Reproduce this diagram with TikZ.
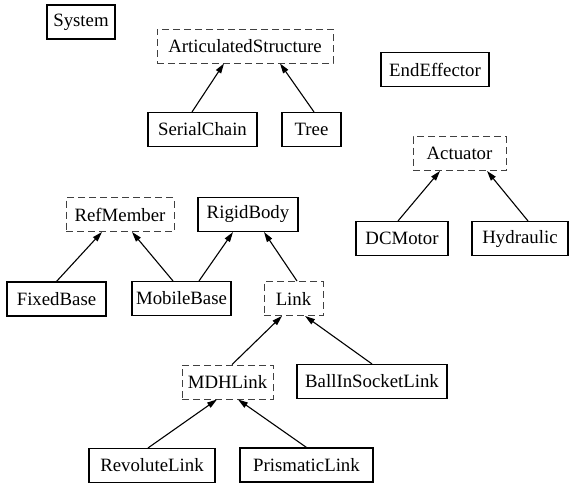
\documentclass[tikz,border=0pt]{standalone}
\usepackage{fontspec}
\setmainfont{Liberation Serif}
\usetikzlibrary{arrows.meta}
\begin{document}
\begin{tikzpicture}[x=1pt,y=-1pt,
  cls/.style={draw, line width=1.1pt, inner sep=0pt, minimum height=34pt,
    font=\fontsize{18.8}{21}\selectfont},
  abstract/.style={cls, draw=black!75, dash pattern=on 7pt off 4pt, line width=0.9pt},
  inherit/.style={line width=1.1pt, -{Triangle[length=10pt,width=6pt]}}]
\useasboundingbox (0,0) rectangle (569,485);

% classes
\node[cls, minimum width=68pt]       (system)  at (81,22)      {System};
\node[abstract, minimum width=176pt] (artic)   at (245,46)     {ArticulatedStructure};
\node[cls, minimum width=108pt]      (endeff)  at (435,69.5)   {EndEffector};
\node[cls, minimum width=109pt]      (serial)  at (202.5,129.5){SerialChain};
\node[cls, minimum width=59pt]       (tree)    at (311.5,129.5){Tree};
\node[abstract, minimum width=93pt]  (actuator) at (459.5,153.5){Actuator};
\node[abstract, minimum width=108pt] (refmem)  at (120,214.5)  {RefMember};
\node[cls, minimum width=100pt]      (rigid)   at (248,214.5)  {RigidBody};
\node[cls, minimum width=92pt]       (dcmotor) at (402,238.5)  {DCMotor};
\node[cls, minimum width=96pt]       (hydr)    at (520,238.5)  {Hydraulic};
\node[cls, minimum width=99pt]       (fixed)   at (56.5,299)   {FixedBase};
\node[cls, minimum width=99pt]       (mobile)  at (181.5,298.5){MobileBase};
\node[abstract, minimum width=59pt]  (link)    at (293.5,298.5){Link};
\node[abstract, minimum width=91pt]  (mdh)     at (227.5,382)  {MDHLink};
\node[cls, minimum width=150pt]      (ball)    at (372,381.5)  {BallInSocketLink};
\node[cls, minimum width=126pt]      (revol)   at (152,465.5)  {RevoluteLink};
\node[cls, minimum width=133pt]      (prism)   at (306.5,465)  {PrismaticLink};

% inheritance arrows
\draw[inherit] ([xshift=-10.5pt]serial.north) -- ([xshift=-21pt]artic.south);
\draw[inherit] ([xshift=2.5pt]tree.north)     -- ([xshift=35pt]artic.south);
\draw[inherit] ([xshift=-4pt]dcmotor.north)   -- ([xshift=-19.5pt]actuator.south);
\draw[inherit] ([xshift=8pt]hydr.north)       -- ([xshift=27.5pt]actuator.south);
\draw[inherit] (fixed.north)                  -- ([xshift=-18pt]refmem.south);
\draw[inherit] ([xshift=-8.5pt]mobile.north)  -- ([xshift=12pt]refmem.south);
\draw[inherit] ([xshift=17.5pt]mobile.north)  -- ([xshift=-15pt]rigid.south);
\draw[inherit] ([xshift=3.5pt]link.north)     -- ([xshift=16pt]rigid.south);
\draw[inherit] ([xshift=4.5pt]mdh.north)      -- ([xshift=-11.5pt]link.south);
\draw[inherit] (ball.north)                   -- ([xshift=11.5pt]link.south);
\draw[inherit] ([xshift=-4pt]revol.north)     -- ([xshift=-10.5pt]mdh.south);
\draw[inherit] (prism.north)                  -- ([xshift=10.5pt]mdh.south);
\end{tikzpicture}
\end{document}
